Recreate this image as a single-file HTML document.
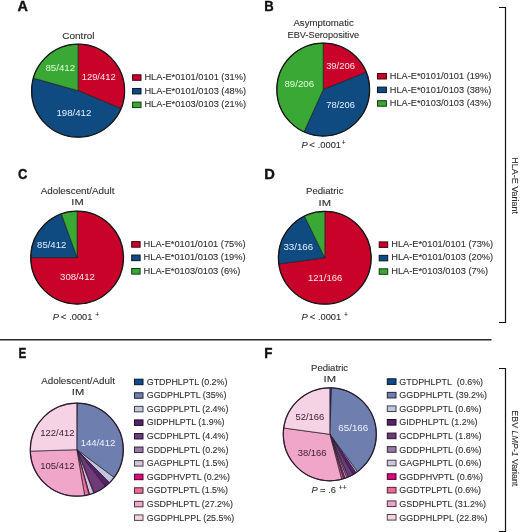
<!DOCTYPE html>
<html><head><meta charset="utf-8"><style>
html,body{margin:0;padding:0;background:#fff;width:520px;height:532px;overflow:hidden}
svg{display:block;will-change:transform}
text{font-family:"Liberation Sans",sans-serif}
</style></head><body>
<svg width="520" height="532" viewBox="0 0 520 532">
<rect width="520" height="532" fill="#fff"/>
<text x="17.64" y="11.20" font-size="14" fill="#111" textLength="10.44" lengthAdjust="spacingAndGlyphs" font-weight="bold" stroke="#111" stroke-width="0.35">A</text>
<text x="264.32" y="11.20" font-size="14" fill="#111" textLength="9.47" lengthAdjust="spacingAndGlyphs" font-weight="bold" stroke="#111" stroke-width="0.35">B</text>
<text x="17.97" y="179.20" font-size="14" fill="#111" textLength="9.39" lengthAdjust="spacingAndGlyphs" font-weight="bold" stroke="#111" stroke-width="0.35">C</text>
<text x="264.22" y="178.80" font-size="14" fill="#111" textLength="10.60" lengthAdjust="spacingAndGlyphs" font-weight="bold" stroke="#111" stroke-width="0.35">D</text>
<text x="18.41" y="357.90" font-size="14" fill="#111" textLength="7.85" lengthAdjust="spacingAndGlyphs" font-weight="bold" stroke="#111" stroke-width="0.35">E</text>
<text x="264.30" y="358.00" font-size="14" fill="#111" textLength="8.19" lengthAdjust="spacingAndGlyphs" font-weight="bold" stroke="#111" stroke-width="0.35">F</text>
<text x="62.39" y="38.60" font-size="9.8" fill="#2e2e2e" textLength="32.07" lengthAdjust="spacingAndGlyphs"  stroke="#2e2e2e" stroke-width="0.1">Control</text>
<path d="M78.10,90.70 L78.10,44.20 A46.5,46.5 0 0 1 120.99,108.66 Z" fill="#C80228" stroke="#151515" stroke-width="0.6" stroke-linejoin="round"/>
<path d="M78.10,90.70 L120.99,108.66 A46.5,46.5 0 0 1 33.34,78.10 Z" fill="#0F4A80" stroke="#151515" stroke-width="0.6" stroke-linejoin="round"/>
<path d="M78.10,90.70 L33.34,78.10 A46.5,46.5 0 0 1 78.10,44.20 Z" fill="#39A834" stroke="#151515" stroke-width="0.6" stroke-linejoin="round"/>
<circle cx="78.1" cy="90.7" r="46.5" fill="none" stroke="#151515" stroke-width="1.25"/>
<text x="81.68" y="79.70" font-size="9.8" fill="#ffe8ec" textLength="33.99" lengthAdjust="spacingAndGlyphs" >129/412</text>
<text x="56.46" y="116.30" font-size="9.8" fill="#e6f0ff" textLength="34.92" lengthAdjust="spacingAndGlyphs" >198/412</text>
<text x="45.38" y="71.10" font-size="9.8" fill="#e0ffd8" textLength="29.71" lengthAdjust="spacingAndGlyphs" >85/412</text>
<rect x="132.60" y="74.80" width="8.40" height="5.50" fill="#C80228" stroke="#42000d" stroke-width="1"/>
<text x="144.44" y="80.30" font-size="9.5" fill="#2e2e2e" textLength="101.53" lengthAdjust="spacingAndGlyphs" stroke="#2e2e2e" stroke-width="0.1">HLA-E*0101/0101 (31%)</text>
<rect x="132.60" y="88.45" width="8.40" height="5.50" fill="#0F4A80" stroke="#04182a" stroke-width="1"/>
<text x="144.44" y="93.85" font-size="9.5" fill="#2e2e2e" textLength="101.53" lengthAdjust="spacingAndGlyphs" stroke="#2e2e2e" stroke-width="0.1">HLA-E*0101/0103 (48%)</text>
<rect x="132.60" y="102.10" width="8.40" height="5.50" fill="#39A834" stroke="#123711" stroke-width="1"/>
<text x="144.44" y="107.40" font-size="9.5" fill="#2e2e2e" textLength="101.53" lengthAdjust="spacingAndGlyphs" stroke="#2e2e2e" stroke-width="0.1">HLA-E*0103/0103 (21%)</text>
<text x="293.48" y="26.40" font-size="9.6" fill="#2e2e2e" textLength="60.27" lengthAdjust="spacingAndGlyphs"  stroke="#2e2e2e" stroke-width="0.1">Asymptomatic</text>
<text x="287.55" y="37.70" font-size="9.6" fill="#2e2e2e" textLength="71.55" lengthAdjust="spacingAndGlyphs"  stroke="#2e2e2e" stroke-width="0.1">EBV-Seropositive</text>
<path d="M323.20,89.60 L323.20,43.20 A46.4,46.4 0 0 1 366.27,72.33 Z" fill="#C80228" stroke="#151515" stroke-width="0.6" stroke-linejoin="round"/>
<path d="M323.20,89.60 L366.27,72.33 A46.4,46.4 0 0 1 303.98,131.83 Z" fill="#0F4A80" stroke="#151515" stroke-width="0.6" stroke-linejoin="round"/>
<path d="M323.20,89.60 L303.98,131.83 A46.4,46.4 0 0 1 323.20,43.20 Z" fill="#39A834" stroke="#151515" stroke-width="0.6" stroke-linejoin="round"/>
<circle cx="323.2" cy="89.6" r="46.4" fill="none" stroke="#151515" stroke-width="1.25"/>
<text x="326.14" y="68.60" font-size="9.8" fill="#ffe8ec" textLength="28.77" lengthAdjust="spacingAndGlyphs" >39/206</text>
<text x="284.38" y="86.90" font-size="9.8" fill="#e0ffd8" textLength="29.75" lengthAdjust="spacingAndGlyphs" >89/206</text>
<text x="326.27" y="108.30" font-size="9.8" fill="#e6f0ff" textLength="28.64" lengthAdjust="spacingAndGlyphs" >78/206</text>
<text x="301.51" y="147.80" font-size="9.3" fill="#2e2e2e" font-style="italic" stroke="#2e2e2e" stroke-width="0.1">P</text>
<text x="309.33" y="147.90" font-size="9.6" fill="#2e2e2e" stroke="#2e2e2e" stroke-width="0.1"><</text>
<text x="317.75" y="147.80" font-size="9.3" fill="#2e2e2e" stroke="#2e2e2e" stroke-width="0.1">.0001</text>
<text x="341.87" y="144.60" font-size="6.8" fill="#2e2e2e" stroke="#2e2e2e" stroke-width="0.1">+</text>
<rect x="377.50" y="73.50" width="8.90" height="5.50" fill="#C80228" stroke="#42000d" stroke-width="1"/>
<text x="389.74" y="79.30" font-size="9.5" fill="#2e2e2e" textLength="101.53" lengthAdjust="spacingAndGlyphs" stroke="#2e2e2e" stroke-width="0.1">HLA-E*0101/0101 (19%)</text>
<rect x="377.50" y="87.10" width="8.90" height="5.50" fill="#0F4A80" stroke="#04182a" stroke-width="1"/>
<text x="389.74" y="92.70" font-size="9.5" fill="#2e2e2e" textLength="101.53" lengthAdjust="spacingAndGlyphs" stroke="#2e2e2e" stroke-width="0.1">HLA-E*0101/0103 (38%)</text>
<rect x="377.50" y="100.70" width="8.90" height="5.50" fill="#39A834" stroke="#123711" stroke-width="1"/>
<text x="389.74" y="106.10" font-size="9.5" fill="#2e2e2e" textLength="101.53" lengthAdjust="spacingAndGlyphs" stroke="#2e2e2e" stroke-width="0.1">HLA-E*0103/0103 (43%)</text>
<text x="40.68" y="194.20" font-size="9.6" fill="#2e2e2e" textLength="73.79" lengthAdjust="spacingAndGlyphs"  stroke="#2e2e2e" stroke-width="0.1">Adolescent/Adult</text>
<text x="71.38" y="205.10" font-size="9.6" fill="#2e2e2e" textLength="12.34" lengthAdjust="spacingAndGlyphs"  stroke="#2e2e2e" stroke-width="0.1">IM</text>
<path d="M77.10,257.60 L77.10,211.20 A46.4,46.4 0 1 1 30.70,257.60 Z" fill="#C80228" stroke="#151515" stroke-width="0.6" stroke-linejoin="round"/>
<path d="M77.10,257.60 L30.70,257.60 A46.4,46.4 0 0 1 61.38,213.94 Z" fill="#0F4A80" stroke="#151515" stroke-width="0.6" stroke-linejoin="round"/>
<path d="M77.10,257.60 L61.38,213.94 A46.4,46.4 0 0 1 77.10,211.20 Z" fill="#39A834" stroke="#151515" stroke-width="0.6" stroke-linejoin="round"/>
<circle cx="77.1" cy="257.6" r="46.4" fill="none" stroke="#151515" stroke-width="1.25"/>
<text x="60.03" y="279.50" font-size="9.8" fill="#ffe8ec" textLength="34.85" lengthAdjust="spacingAndGlyphs" >308/412</text>
<text x="37.09" y="247.50" font-size="9.8" fill="#e6f0ff" textLength="29.19" lengthAdjust="spacingAndGlyphs" >85/412</text>
<text x="52.71" y="319.50" font-size="9.3" fill="#2e2e2e" font-style="italic" stroke="#2e2e2e" stroke-width="0.1">P</text>
<text x="60.83" y="319.60" font-size="9.6" fill="#2e2e2e" stroke="#2e2e2e" stroke-width="0.1"><</text>
<text x="69.15" y="319.50" font-size="9.3" fill="#2e2e2e" stroke="#2e2e2e" stroke-width="0.1">.0001</text>
<text x="95.27" y="316.60" font-size="6.8" fill="#2e2e2e" stroke="#2e2e2e" stroke-width="0.1">+</text>
<rect x="131.70" y="241.60" width="8.40" height="5.60" fill="#C80228" stroke="#42000d" stroke-width="1"/>
<text x="143.54" y="246.80" font-size="9.5" fill="#2e2e2e" textLength="102.04" lengthAdjust="spacingAndGlyphs" stroke="#2e2e2e" stroke-width="0.1">HLA-E*0101/0101 (75%)</text>
<rect x="131.70" y="255.05" width="8.40" height="5.60" fill="#0F4A80" stroke="#04182a" stroke-width="1"/>
<text x="143.54" y="260.15" font-size="9.5" fill="#2e2e2e" textLength="102.04" lengthAdjust="spacingAndGlyphs" stroke="#2e2e2e" stroke-width="0.1">HLA-E*0101/0103 (19%)</text>
<rect x="131.70" y="268.50" width="8.40" height="5.60" fill="#39A834" stroke="#123711" stroke-width="1"/>
<text x="143.54" y="273.50" font-size="9.5" fill="#2e2e2e" textLength="96.88" lengthAdjust="spacingAndGlyphs" stroke="#2e2e2e" stroke-width="0.1">HLA-E*0103/0103 (6%)</text>
<text x="306.01" y="194.10" font-size="9.6" fill="#2e2e2e" textLength="37.44" lengthAdjust="spacingAndGlyphs"  stroke="#2e2e2e" stroke-width="0.1">Pediatric</text>
<text x="318.57" y="205.60" font-size="9.6" fill="#2e2e2e" textLength="12.45" lengthAdjust="spacingAndGlyphs"  stroke="#2e2e2e" stroke-width="0.1">IM</text>
<path d="M324.80,257.80 L324.80,211.40 A46.4,46.4 0 1 1 278.81,263.93 Z" fill="#C80228" stroke="#151515" stroke-width="0.6" stroke-linejoin="round"/>
<path d="M324.80,257.80 L278.81,263.93 A46.4,46.4 0 0 1 304.44,216.10 Z" fill="#0F4A80" stroke="#151515" stroke-width="0.6" stroke-linejoin="round"/>
<path d="M324.80,257.80 L304.44,216.10 A46.4,46.4 0 0 1 324.80,211.40 Z" fill="#39A834" stroke="#151515" stroke-width="0.6" stroke-linejoin="round"/>
<circle cx="324.8" cy="257.8" r="46.4" fill="none" stroke="#151515" stroke-width="1.25"/>
<text x="307.97" y="281.00" font-size="9.8" fill="#ffe8ec" textLength="34.44" lengthAdjust="spacingAndGlyphs" >121/166</text>
<text x="283.43" y="250.00" font-size="9.8" fill="#e6f0ff" textLength="29.70" lengthAdjust="spacingAndGlyphs" >33/166</text>
<text x="301.51" y="319.50" font-size="9.3" fill="#2e2e2e" font-style="italic" stroke="#2e2e2e" stroke-width="0.1">P</text>
<text x="309.63" y="319.60" font-size="9.6" fill="#2e2e2e" stroke="#2e2e2e" stroke-width="0.1"><</text>
<text x="317.95" y="319.50" font-size="9.3" fill="#2e2e2e" stroke="#2e2e2e" stroke-width="0.1">.0001</text>
<text x="344.07" y="316.60" font-size="6.8" fill="#2e2e2e" stroke="#2e2e2e" stroke-width="0.1">+</text>
<rect x="379.20" y="241.90" width="8.50" height="5.50" fill="#C80228" stroke="#42000d" stroke-width="1"/>
<text x="391.24" y="246.80" font-size="9.5" fill="#2e2e2e" textLength="101.93" lengthAdjust="spacingAndGlyphs" stroke="#2e2e2e" stroke-width="0.1">HLA-E*0101/0101 (73%)</text>
<rect x="379.20" y="255.35" width="8.50" height="5.50" fill="#0F4A80" stroke="#04182a" stroke-width="1"/>
<text x="391.24" y="260.15" font-size="9.5" fill="#2e2e2e" textLength="101.93" lengthAdjust="spacingAndGlyphs" stroke="#2e2e2e" stroke-width="0.1">HLA-E*0101/0103 (20%)</text>
<rect x="379.20" y="268.80" width="8.50" height="5.50" fill="#39A834" stroke="#123711" stroke-width="1"/>
<text x="391.24" y="273.50" font-size="9.5" fill="#2e2e2e" textLength="96.78" lengthAdjust="spacingAndGlyphs" stroke="#2e2e2e" stroke-width="0.1">HLA-E*0103/0103 (7%)</text>
<line x1="0" y1="339.8" x2="491.5" y2="339.8" stroke="#2a2a2a" stroke-width="1.4"/>
<path d="M499,7.5 H505.5 V322.5 H499" fill="none" stroke="#111" stroke-width="1.2"/>
<path d="M499,368.5 H505.5 V531.5 H499" fill="none" stroke="#111" stroke-width="1.2"/>
<text transform="translate(512.1,157.36) rotate(90) scale(0.9437,1)" x="0" y="0" font-size="9.5" fill="#2e2e2e" stroke="#2e2e2e" stroke-width="0.1">HLA-E Variant</text>
<text transform="translate(512.0,410.37) rotate(90) scale(0.9214,1)" x="0" y="0" font-size="9.6" fill="#2e2e2e" stroke="#2e2e2e" stroke-width="0.1">EBV <tspan font-style="italic">LMP-1</tspan> Variant</text>
<text x="41.18" y="383.80" font-size="9.6" fill="#2e2e2e" textLength="73.69" lengthAdjust="spacingAndGlyphs"  stroke="#2e2e2e" stroke-width="0.1">Adolescent/Adult</text>
<text x="71.88" y="394.60" font-size="9.6" fill="#2e2e2e" textLength="12.34" lengthAdjust="spacingAndGlyphs"  stroke="#2e2e2e" stroke-width="0.1">IM</text>
<path d="M76.80,449.70 L76.80,403.20 A46.5,46.5 0 0 1 77.38,403.20 Z" fill="#124A8A" stroke="#2a1a2e" stroke-width="0.7" stroke-linejoin="round"/>
<path d="M76.80,449.70 L77.38,403.20 A46.5,46.5 0 0 1 114.07,477.50 Z" fill="#6E7EAE" stroke="#2a1a2e" stroke-width="0.7" stroke-linejoin="round"/>
<path d="M76.80,449.70 L114.07,477.50 A46.5,46.5 0 0 1 109.47,482.79 Z" fill="#C0C6DC" stroke="#2a1a2e" stroke-width="0.7" stroke-linejoin="round"/>
<path d="M76.80,449.70 L109.47,482.79 A46.5,46.5 0 0 1 105.30,486.44 Z" fill="#58206A" stroke="#2a1a2e" stroke-width="0.7" stroke-linejoin="round"/>
<path d="M76.80,449.70 L105.30,486.44 A46.5,46.5 0 0 1 94.19,492.83 Z" fill="#6E3A7A" stroke="#2a1a2e" stroke-width="0.7" stroke-linejoin="round"/>
<path d="M76.80,449.70 L94.19,492.83 A46.5,46.5 0 0 1 93.65,493.04 Z" fill="#9A78A8" stroke="#2a1a2e" stroke-width="0.7" stroke-linejoin="round"/>
<path d="M76.80,449.70 L93.65,493.04 A46.5,46.5 0 0 1 89.49,494.43 Z" fill="#D2C6DC" stroke="#2a1a2e" stroke-width="0.7" stroke-linejoin="round"/>
<path d="M76.80,449.70 L89.49,494.43 A46.5,46.5 0 0 1 88.93,494.59 Z" fill="#E0087A" stroke="#2a1a2e" stroke-width="0.7" stroke-linejoin="round"/>
<path d="M76.80,449.70 L88.93,494.59 A46.5,46.5 0 0 1 84.65,495.53 Z" fill="#EE6C9C" stroke="#2a1a2e" stroke-width="0.7" stroke-linejoin="round"/>
<path d="M76.80,449.70 L84.65,495.53 A46.5,46.5 0 0 1 30.32,451.16 Z" fill="#F0A6C8" stroke="#2a1a2e" stroke-width="0.7" stroke-linejoin="round"/>
<path d="M76.80,449.70 L30.32,451.16 A46.5,46.5 0 0 1 76.80,403.20 Z" fill="#F5D2E4" stroke="#2a1a2e" stroke-width="0.7" stroke-linejoin="round"/>
<circle cx="76.8" cy="449.7" r="46.5" fill="none" stroke="#2a1a2e" stroke-width="1.25"/>
<text x="80.67" y="445.80" font-size="9.8" fill="#f0f2ff" textLength="34.71" lengthAdjust="spacingAndGlyphs" >144/412</text>
<text x="40.28" y="435.70" font-size="9.8" fill="#3a2236" textLength="34.30" lengthAdjust="spacingAndGlyphs" >122/412</text>
<text x="40.28" y="468.80" font-size="9.8" fill="#3a2236" textLength="34.30" lengthAdjust="spacingAndGlyphs" >105/412</text>
<rect x="134.50" y="379.20" width="8.50" height="5.50" fill="#124A8A" stroke="#05182d" stroke-width="1"/>
<text x="146.75" y="384.50" font-size="9.5" fill="#2e2e2e" textLength="80.69" lengthAdjust="spacingAndGlyphs" stroke="#2e2e2e" stroke-width="0.1">GTDPHLPTL (0.2%)</text>
<rect x="134.50" y="392.77" width="8.50" height="5.50" fill="#6E7EAE" stroke="#242939" stroke-width="1"/>
<text x="146.75" y="398.10" font-size="9.5" fill="#2e2e2e" textLength="79.71" lengthAdjust="spacingAndGlyphs" stroke="#2e2e2e" stroke-width="0.1">GGDPHLPTL (35%)</text>
<rect x="134.50" y="406.34" width="8.50" height="5.50" fill="#C0C6DC" stroke="#3f4148" stroke-width="1"/>
<text x="146.75" y="411.70" font-size="9.5" fill="#2e2e2e" textLength="81.68" lengthAdjust="spacingAndGlyphs" stroke="#2e2e2e" stroke-width="0.1">GGDPPLPTL (2.4%)</text>
<rect x="134.50" y="419.91" width="8.50" height="5.50" fill="#58206A" stroke="#1d0a22" stroke-width="1"/>
<text x="146.75" y="425.30" font-size="9.5" fill="#2e2e2e" textLength="77.75" lengthAdjust="spacingAndGlyphs" stroke="#2e2e2e" stroke-width="0.1">GIDPHLPTL (1.9%)</text>
<rect x="134.50" y="433.48" width="8.50" height="5.50" fill="#6E3A7A" stroke="#241328" stroke-width="1"/>
<text x="146.75" y="438.90" font-size="9.5" fill="#2e2e2e" textLength="81.68" lengthAdjust="spacingAndGlyphs" stroke="#2e2e2e" stroke-width="0.1">GCDPHLPTL (4.4%)</text>
<rect x="134.50" y="447.05" width="8.50" height="5.50" fill="#9A78A8" stroke="#322737" stroke-width="1"/>
<text x="146.75" y="452.50" font-size="9.5" fill="#2e2e2e" textLength="81.68" lengthAdjust="spacingAndGlyphs" stroke="#2e2e2e" stroke-width="0.1">GDDPHLPTL (0.2%)</text>
<rect x="134.50" y="460.62" width="8.50" height="5.50" fill="#D2C6DC" stroke="#454148" stroke-width="1"/>
<text x="146.75" y="466.10" font-size="9.5" fill="#2e2e2e" textLength="81.68" lengthAdjust="spacingAndGlyphs" stroke="#2e2e2e" stroke-width="0.1">GAGPHLPTL (1.5%)</text>
<rect x="134.50" y="474.19" width="8.50" height="5.50" fill="#E0087A" stroke="#490228" stroke-width="1"/>
<text x="146.75" y="479.70" font-size="9.5" fill="#2e2e2e" textLength="83.15" lengthAdjust="spacingAndGlyphs" stroke="#2e2e2e" stroke-width="0.1">GGDPHVPTL (0.2%)</text>
<rect x="134.50" y="487.76" width="8.50" height="5.50" fill="#EE6C9C" stroke="#4e2333" stroke-width="1"/>
<text x="146.75" y="493.30" font-size="9.5" fill="#2e2e2e" textLength="81.19" lengthAdjust="spacingAndGlyphs" stroke="#2e2e2e" stroke-width="0.1">GGDTPLPTL (1.5%)</text>
<rect x="134.50" y="501.33" width="8.50" height="5.50" fill="#F0A6C8" stroke="#4f3642" stroke-width="1"/>
<text x="146.75" y="506.90" font-size="9.5" fill="#2e2e2e" textLength="86.12" lengthAdjust="spacingAndGlyphs" stroke="#2e2e2e" stroke-width="0.1">GSDPHLPTL (27.2%)</text>
<rect x="134.50" y="514.90" width="8.50" height="5.50" fill="#F5D2E4" stroke="#50454b" stroke-width="1"/>
<text x="146.75" y="520.50" font-size="9.5" fill="#2e2e2e" textLength="87.59" lengthAdjust="spacingAndGlyphs" stroke="#2e2e2e" stroke-width="0.1">GGDPHLPPL (25.5%)</text>
<text x="311.02" y="371.00" font-size="9.6" fill="#2e2e2e" textLength="37.13" lengthAdjust="spacingAndGlyphs"  stroke="#2e2e2e" stroke-width="0.1">Pediatric</text>
<text x="323.57" y="381.50" font-size="9.6" fill="#2e2e2e" textLength="12.45" lengthAdjust="spacingAndGlyphs"  stroke="#2e2e2e" stroke-width="0.1">IM</text>
<path d="M329.80,434.30 L329.80,387.80 A46.5,46.5 0 0 1 331.56,387.83 Z" fill="#124A8A" stroke="#2a1a2e" stroke-width="0.7" stroke-linejoin="round"/>
<path d="M329.80,434.30 L331.56,387.83 A46.5,46.5 0 0 1 357.42,471.71 Z" fill="#6E7EAE" stroke="#2a1a2e" stroke-width="0.7" stroke-linejoin="round"/>
<path d="M329.80,434.30 L357.42,471.71 A46.5,46.5 0 0 1 355.98,472.73 Z" fill="#C0C6DC" stroke="#2a1a2e" stroke-width="0.7" stroke-linejoin="round"/>
<path d="M329.80,434.30 L355.98,472.73 A46.5,46.5 0 0 1 353.01,474.59 Z" fill="#58206A" stroke="#2a1a2e" stroke-width="0.7" stroke-linejoin="round"/>
<path d="M329.80,434.30 L353.01,474.59 A46.5,46.5 0 0 1 348.30,476.96 Z" fill="#6E3A7A" stroke="#2a1a2e" stroke-width="0.7" stroke-linejoin="round"/>
<path d="M329.80,434.30 L348.30,476.96 A46.5,46.5 0 0 1 346.68,477.63 Z" fill="#9A78A8" stroke="#2a1a2e" stroke-width="0.7" stroke-linejoin="round"/>
<path d="M329.80,434.30 L346.68,477.63 A46.5,46.5 0 0 1 345.03,478.24 Z" fill="#D2C6DC" stroke="#2a1a2e" stroke-width="0.7" stroke-linejoin="round"/>
<path d="M329.80,434.30 L345.03,478.24 A46.5,46.5 0 0 1 343.36,478.78 Z" fill="#E0087A" stroke="#2a1a2e" stroke-width="0.7" stroke-linejoin="round"/>
<path d="M329.80,434.30 L343.36,478.78 A46.5,46.5 0 0 1 341.67,479.26 Z" fill="#EE6C9C" stroke="#2a1a2e" stroke-width="0.7" stroke-linejoin="round"/>
<path d="M329.80,434.30 L341.67,479.26 A46.5,46.5 0 0 1 283.73,428.02 Z" fill="#F0A6C8" stroke="#2a1a2e" stroke-width="0.7" stroke-linejoin="round"/>
<path d="M329.80,434.30 L283.73,428.02 A46.5,46.5 0 0 1 329.80,387.80 Z" fill="#F5D2E4" stroke="#2a1a2e" stroke-width="0.7" stroke-linejoin="round"/>
<circle cx="329.8" cy="434.3" r="46.5" fill="none" stroke="#2a1a2e" stroke-width="1.25"/>
<text x="338.30" y="430.60" font-size="9.8" fill="#f0f2ff" textLength="29.93" lengthAdjust="spacingAndGlyphs" >65/166</text>
<text x="295.42" y="419.90" font-size="9.8" fill="#3a2236" textLength="28.79" lengthAdjust="spacingAndGlyphs" >52/166</text>
<text x="297.74" y="456.40" font-size="9.8" fill="#3a2236" textLength="28.87" lengthAdjust="spacingAndGlyphs" >38/166</text>
<text x="311.51" y="492.50" font-size="9.3" fill="#2e2e2e" font-style="italic" stroke="#2e2e2e" stroke-width="0.1">P</text>
<text x="320.05" y="492.50" font-size="9.3" fill="#2e2e2e" stroke="#2e2e2e" stroke-width="0.1">=</text>
<text x="328.15" y="492.50" font-size="9.3" fill="#2e2e2e" stroke="#2e2e2e" stroke-width="0.1">.6</text>
<text x="338.87" y="489.60" font-size="6.8" fill="#2e2e2e" stroke="#2e2e2e" stroke-width="0.1">++</text>
<rect x="387.30" y="378.80" width="8.70" height="5.60" fill="#124A8A" stroke="#05182d" stroke-width="1"/>
<text x="399.35" y="384.50" font-size="9.5" fill="#2e2e2e" textLength="83.70" lengthAdjust="spacingAndGlyphs" stroke="#2e2e2e" stroke-width="0.1">GTDPHLPTL  (0.6%)</text>
<rect x="387.30" y="392.37" width="8.70" height="5.60" fill="#6E7EAE" stroke="#242939" stroke-width="1"/>
<text x="399.35" y="398.10" font-size="9.5" fill="#2e2e2e" textLength="87.67" lengthAdjust="spacingAndGlyphs" stroke="#2e2e2e" stroke-width="0.1">GGDPHLPTL (39.2%)</text>
<rect x="387.30" y="405.94" width="8.70" height="5.60" fill="#C0C6DC" stroke="#3f4148" stroke-width="1"/>
<text x="399.35" y="411.70" font-size="9.5" fill="#2e2e2e" textLength="82.22" lengthAdjust="spacingAndGlyphs" stroke="#2e2e2e" stroke-width="0.1">GGDPPLPTL (0.6%)</text>
<rect x="387.30" y="419.51" width="8.70" height="5.60" fill="#58206A" stroke="#1d0a22" stroke-width="1"/>
<text x="399.35" y="425.30" font-size="9.5" fill="#2e2e2e" textLength="78.26" lengthAdjust="spacingAndGlyphs" stroke="#2e2e2e" stroke-width="0.1">GIDPHLPTL (1.2%)</text>
<rect x="387.30" y="433.08" width="8.70" height="5.60" fill="#6E3A7A" stroke="#241328" stroke-width="1"/>
<text x="399.35" y="438.90" font-size="9.5" fill="#2e2e2e" textLength="82.22" lengthAdjust="spacingAndGlyphs" stroke="#2e2e2e" stroke-width="0.1">GCDPHLPTL (1.8%)</text>
<rect x="387.30" y="446.65" width="8.70" height="5.60" fill="#9A78A8" stroke="#322737" stroke-width="1"/>
<text x="399.35" y="452.50" font-size="9.5" fill="#2e2e2e" textLength="82.22" lengthAdjust="spacingAndGlyphs" stroke="#2e2e2e" stroke-width="0.1">GDDPHLPTL (0.6%)</text>
<rect x="387.30" y="460.22" width="8.70" height="5.60" fill="#D2C6DC" stroke="#454148" stroke-width="1"/>
<text x="399.35" y="466.10" font-size="9.5" fill="#2e2e2e" textLength="82.22" lengthAdjust="spacingAndGlyphs" stroke="#2e2e2e" stroke-width="0.1">GAGPHLPTL (0.6%)</text>
<rect x="387.30" y="473.79" width="8.70" height="5.60" fill="#E0087A" stroke="#490228" stroke-width="1"/>
<text x="399.35" y="479.70" font-size="9.5" fill="#2e2e2e" textLength="83.70" lengthAdjust="spacingAndGlyphs" stroke="#2e2e2e" stroke-width="0.1">GGDPHVPTL (0.6%)</text>
<rect x="387.30" y="487.36" width="8.70" height="5.60" fill="#EE6C9C" stroke="#4e2333" stroke-width="1"/>
<text x="399.35" y="493.30" font-size="9.5" fill="#2e2e2e" textLength="81.72" lengthAdjust="spacingAndGlyphs" stroke="#2e2e2e" stroke-width="0.1">GGDTPLPTL (0.6%)</text>
<rect x="387.30" y="500.93" width="8.70" height="5.60" fill="#F0A6C8" stroke="#4f3642" stroke-width="1"/>
<text x="399.35" y="506.90" font-size="9.5" fill="#2e2e2e" textLength="86.68" lengthAdjust="spacingAndGlyphs" stroke="#2e2e2e" stroke-width="0.1">GSDPHLPTL (31.2%)</text>
<rect x="387.30" y="514.50" width="8.70" height="5.60" fill="#F5D2E4" stroke="#50454b" stroke-width="1"/>
<text x="399.35" y="520.50" font-size="9.5" fill="#2e2e2e" textLength="88.17" lengthAdjust="spacingAndGlyphs" stroke="#2e2e2e" stroke-width="0.1">GGDPHLPPL (22.8%)</text>
</svg>
</body></html>
